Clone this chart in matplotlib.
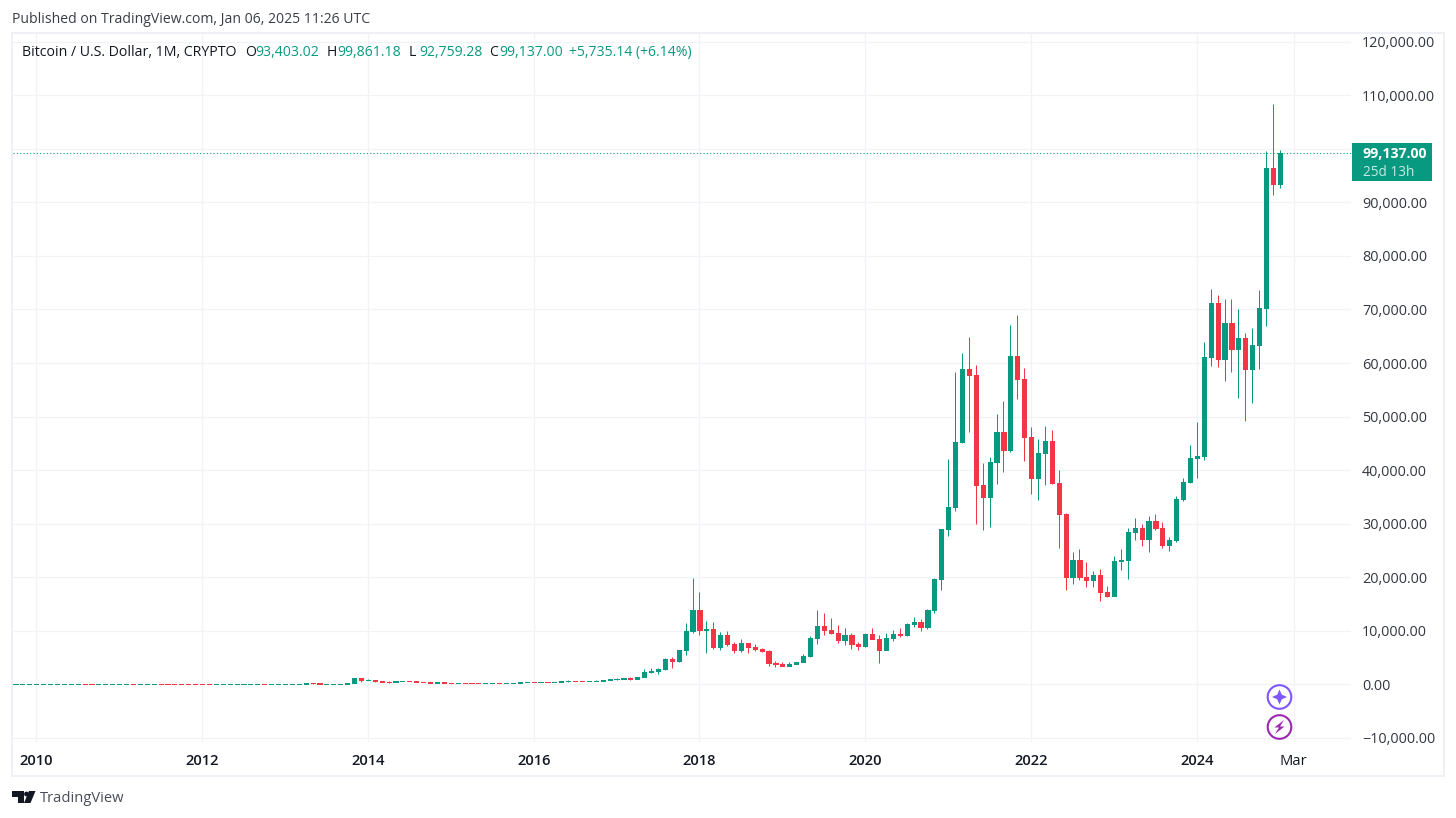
import numpy as np
import matplotlib
matplotlib.use("Agg")
import matplotlib.pyplot as plt
from matplotlib.patches import Circle, Polygon, Rectangle

GREEN = "#089981"
RED = "#f23645"
GRID = "#f2f3f6"
TEXT = "#131722"

# monthly candles, Oct 2009 .. Jan 2025
opens = [
    0.04, 0.05, 0.06,
    0.07, 0.08, 0.09, 0.10, 0.12, 0.14, 0.16, 0.20, 0.18, 0.15, 0.19, 0.28,
    0.30, 0.70, 0.90, 0.78, 3.5, 8.8, 16.1, 13.4, 8.2, 5.1, 3.2, 2.9,
    2.8, 2.6, 2.2, 3, 4, 5, 5.1, 6.7, 9, 10, 9.8, 12.5,
    13.4, 20, 33, 93, 190, 170, 97, 106, 135, 137, 198, 1140,
    730, 815, 550, 450, 445, 630, 640, 585, 480, 385, 338, 378,
    320, 217, 255, 244, 236, 230, 263, 284, 230, 236, 314, 377,
    430, 369, 437, 416, 448, 531, 673, 624, 575, 609, 700, 745,
    964, 970, 1190, 1080, 1350, 2300, 2480, 2875, 4724, 4340, 6400, 9950,
    13870, 10100, 10320, 6920, 9240, 7490, 6390, 7730, 7010, 6620, 6300, 4020,
    3740, 3450, 3820, 4100, 5260, 8560, 10800, 10090, 9600, 8300, 9150, 7570,
    7190, 9350, 8550, 6430, 8630, 9450, 9140, 11350, 11650, 10780, 13800, 19700,
    28950, 33100, 45200, 58800, 57700, 37300, 35040, 41500, 47100, 43800, 61300, 57000,
    46200, 38500, 43200, 45500, 37650, 31800, 19980, 23300, 20050, 19420, 20490, 17160,
    16540, 23120, 23130, 28460, 29230, 27200, 30470, 29230, 25940, 26960, 34650, 37720,
    42260, 42580, 61130, 71290, 60670, 67520, 62700, 64620, 58970, 63330, 70220, 96400,
    93403.02,
]
highs = [
    0.05, 0.06, 0.07,
    0.08, 0.09, 0.10, 0.12, 0.14, 0.16, 0.20, 0.21, 0.19, 0.20, 0.30, 0.31,
    0.75, 1.0, 1.0, 3.5, 8.8, 31, 17, 15, 8.5, 5.5, 3.5, 3.1,
    3, 2.8, 3.1, 4, 5, 5.3, 6.7, 9.5, 15, 13, 11, 13.5,
    22, 39, 100, 260, 210, 190, 112, 140, 145, 220, 1230, 1200,
    1000, 810, 700, 540, 630, 680, 660, 600, 490, 430, 450, 385,
    320, 265, 300, 265, 250, 270, 315, 285, 255, 335, 500, 465,
    465, 445, 440, 470, 550, 780, 680, 620, 620, 740, 780, 980,
    1150, 1210, 1350, 1350, 2857, 3040, 3040, 4970, 5100, 6470, 11450, 19850,
    17240, 11820, 11630, 9770, 9950, 7900, 8460, 7730, 7530, 6780, 6400, 4350,
    4170, 4190, 4120, 5610, 9100, 13870, 13300, 12380, 11070, 10500, 9580, 7900,
    9580, 10500, 9200, 9580, 10140, 10500, 11400, 12570, 12200, 14060, 19900, 29000,
    42100, 58300, 61800, 64850, 59600, 41300, 42400, 50500, 52900, 67100, 69000, 59100,
    48000, 45800, 48200, 47500, 40000, 32000, 24700, 25200, 22800, 21100, 21500, 18400,
    23900, 25200, 29200, 31000, 29900, 31400, 31800, 30300, 27500, 35200, 38500, 44700,
    49000, 64000, 73800, 72700, 72000, 71900, 70000, 65600, 66500, 73600, 99600, 108350,
    99861.18,
]
lows = [
    0.03, 0.04, 0.05,
    0.06, 0.07, 0.08, 0.09, 0.11, 0.13, 0.15, 0.17, 0.14, 0.14, 0.18, 0.26,
    0.29, 0.65, 0.70, 0.70, 3.0, 8.0, 10, 7.5, 4.5, 2.0, 2.2, 2.2,
    2.2, 2.0, 2.1, 2.9, 3.9, 4.9, 5.0, 6.6, 7.8, 9.6, 7.8, 12.2,
    13, 19, 33, 50, 110, 66, 68, 102, 118, 120, 190, 400,
    740, 420, 410, 340, 420, 560, 570, 440, 370, 280, 320, 300,
    165, 215, 235, 215, 225, 220, 255, 200, 225, 235, 310, 355,
    360, 365, 410, 415, 440, 520, 600, 530, 590, 605, 690, 740,
    750, 920, 890, 1060, 1350, 2110, 1920, 2650, 3040, 4200, 5470, 9580,
    9200, 5845, 6590, 6400, 7150, 5845, 6030, 5860, 6220, 6030, 3420, 3230,
    3350, 3370, 3770, 4100, 5100, 7530, 9200, 9320, 7710, 7340, 6590, 6400,
    6970, 8460, 3980, 6400, 8090, 8830, 8990, 10700, 9950, 10330, 13320, 17600,
    27700, 32400, 45000, 47100, 30000, 28800, 29300, 37400, 39600, 43400, 53300, 41700,
    35500, 34400, 37200, 37400, 25400, 17600, 18700, 19500, 18200, 18200, 15600, 16300,
    16500, 21400, 19600, 27000, 25800, 24800, 28900, 25400, 24900, 26600, 34200, 37600,
    38500, 41900, 59400, 59200, 56600, 58400, 53500, 49100, 52550, 58900, 66900, 91400,
    92759.28,
]
closes = [
    0.05, 0.06, 0.07,
    0.08, 0.09, 0.10, 0.12, 0.14, 0.16, 0.20, 0.18, 0.15, 0.19, 0.28, 0.30,
    0.70, 0.90, 0.78, 3.5, 8.8, 16.1, 13.4, 8.2, 5.1, 3.2, 2.9, 2.8,
    2.6, 2.2, 3, 4, 5, 5.1, 6.7, 9, 10, 9.8, 12.5, 13.4,
    20, 33, 93, 190, 170, 97, 106, 135, 137, 198, 1140, 730,
    815, 550, 450, 445, 630, 640, 585, 480, 385, 338, 378, 320,
    217, 255, 244, 236, 230, 263, 284, 230, 236, 314, 377, 430,
    369, 437, 416, 448, 531, 673, 624, 575, 609, 700, 745, 964,
    970, 1190, 1080, 1350, 2300, 2480, 2875, 4724, 4340, 6400, 9950, 13870,
    10100, 10320, 6920, 9240, 7490, 6390, 7730, 7010, 6620, 6300, 4020, 3740,
    3450, 3820, 4100, 5260, 8560, 10800, 10090, 9600, 8300, 9150, 7570, 7190,
    9350, 8550, 6430, 8630, 9450, 9140, 11350, 11650, 10780, 13800, 19700, 28950,
    33100, 45200, 58800, 57700, 37300, 35040, 41500, 47100, 43800, 61300, 57000, 46200,
    38500, 43200, 45500, 37650, 31800, 19980, 23300, 20050, 19420, 20490, 17160, 16540,
    23120, 23130, 28460, 29230, 27200, 30470, 29230, 25940, 26960, 34650, 37720, 42260,
    42580, 61130, 71290, 60670, 67520, 62700, 64620, 58970, 63330, 70220, 96400, 93403.02,
    99137.00,
]

price_ticks = [-10000, 0, 10000, 20000, 30000, 40000, 50000, 60000, 70000,
               80000, 90000, 100000, 110000, 120000]
price_labels = ["\u221210,000.00", "0.00", "10,000.00", "20,000.00", "30,000.00",
                "40,000.00", "50,000.00", "60,000.00", "70,000.00", "80,000.00",
                "90,000.00", "", "110,000.00", "120,000.00"]
time_ticks = [0, 24, 48, 72, 96, 120, 144, 168, 182]
time_labels = ["2010", "2012", "2014", "2016", "2018", "2020", "2022", "2024", "Mar"]
last_price = 99137.00

W, H = 1456, 818
FONT = "Open Sans"
plt.rcParams["font.family"] = [FONT, "DejaVu Sans"]

fig = plt.figure(figsize=(W / 100, H / 100), dpi=100, facecolor="white")

# pane in pixel terms: x 13..1351, y 34..742
ax = fig.add_axes([13 / W, 1 - 742 / H, (1351 - 13) / W, (742 - 34) / H])
ax.set_xlim(-3.36, 190.3)
ax.set_ylim(-10770, 121440)
ax.set_axisbelow(True)
ax.grid(True, color=GRID, lw=0.9)
for s in ax.spines.values():
    s.set_visible(False)

months = np.arange(len(closes)) - 3
o = np.array(opens)
h = np.array(highs)
l = np.array(lows)
c = np.array(closes)
up = c >= o
colors = np.where(up, GREEN, RED)

# 1px wicks, 5px bodies
wicks = ax.vlines(months, l, h, colors=colors, lw=0.72, zorder=2)
wicks.set_snap(True)
ax.bar(months, c - o, bottom=o, width=0.6, color=colors, edgecolor=colors,
       linewidth=0.72, antialiased=False, zorder=3)

ax.axhline(last_price, color=GREEN, lw=0.8, ls=(0, (1, 2)), zorder=4)

ax.set_xticks(time_ticks)
ax.set_xticklabels(time_labels, fontsize=10.6, color=TEXT, fontweight=600)
ax.get_xticklabels()[-1].set_fontweight("normal")
ax.set_yticks(price_ticks)
ax.set_yticklabels(price_labels, fontsize=10.4, color="#333640")
ax.yaxis.tick_right()
ax.tick_params(axis="both", length=0)
ax.tick_params(axis="y", pad=8)
ax.tick_params(axis="x", pad=8.5)

# overlay in pixel coords for frame, header, labels, icons
ov = fig.add_axes([0, 0, 1, 1], facecolor="none")
ov.set_xlim(0, W)
ov.set_ylim(H, 0)
ov.axis("off")

ov.add_patch(Rectangle((12, 33), 1432, 743, fill=False, ec="#eef0f6", lw=1.5))

ov.text(12, 19.5, "Published on TradingView.com, Jan 06, 2025 11:26 UTC",
        fontsize=10.1, color="#3a3d47", va="center")

# legend row
ov.text(22, 52.5, "Bitcoin / U.S. Dollar, 1M, CRYPTO", fontsize=10.2, color=TEXT, va="center")
for lab, lx, val, vx in [("O", 245, "93,403.02", 255.5), ("H", 327, "99,861.18", 337.5),
                         ("L", 409, "92,759.28", 419), ("C", 489, "99,137.00", 499)]:
    ov.text(lx, 52.5, lab, fontsize=10.1, color=TEXT, va="center")
    ov.text(vx, 52.5, val, fontsize=10.1, color=GREEN, va="center")
ov.text(569, 52.5, "+5,735.14 (+6.14%)", fontsize=10.1, color=GREEN, va="center")

# last price tag
ov.add_patch(Rectangle((1352, 143), 80, 38, fc=GREEN, ec="none"))
ov.text(1362.5, 154, "99,137.00", fontsize=10.2, color="white", fontweight="bold", va="center")
ov.text(1363, 172, "25d 13h", fontsize=9.8, color="#c4ebe2", va="center")

# icons
ov.add_patch(Circle((1279.5, 697), 11.8, fc="white", ec="#7e57ff", lw=1.5))
ov.add_patch(Polygon([(1279.5, 689.5), (1281.8, 694.7), (1287, 697), (1281.8, 699.3),
                      (1279.5, 704.5), (1277.2, 699.3), (1272, 697), (1277.2, 694.7)],
                     fc="#7e57ff", ec="none"))
ov.add_patch(Circle((1279.5, 727), 11.8, fc="white", ec="#9c27b0", lw=1.5))
ov.add_patch(Polygon([(1284, 720), (1274.5, 727.5), (1279, 727.5), (1275, 734),
                      (1284.5, 726.5), (1280, 726.5)], fc="#9c27b0", ec="none"))

# logo
ov.add_patch(Polygon([(12, 791), (24, 791), (24, 803), (18, 803), (18, 797), (12, 797)],
                     fc=TEXT, ec="none"))
ov.add_patch(Circle((26.5, 794), 2.4, fc=TEXT, ec="none"))
ov.add_patch(Polygon([(29, 791), (35.5, 791), (30.5, 803), (24, 803)], fc=TEXT, ec="none"))
ov.text(40, 799, "TradingView", fontsize=10.6, color="#4a4d57", va="center")

fig.savefig("out.png", dpi=100)
